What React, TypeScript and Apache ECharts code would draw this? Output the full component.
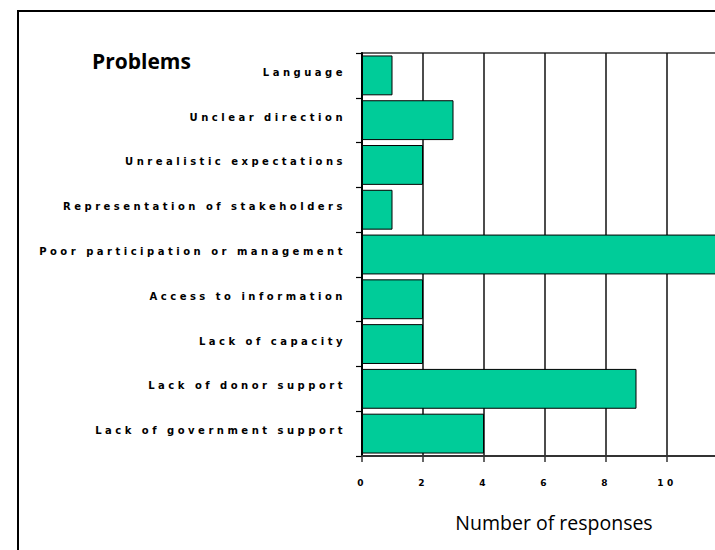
import React, { useEffect, useRef } from "react";
import * as echarts from "echarts";

const categories = [
  "Language",
  "Unclear direction",
  "Unrealistic expectations",
  "Representation of stakeholders",
  "Poor participation or management",
  "Access to information",
  "Lack of capacity",
  "Lack of donor support",
  "Lack of government support",
];
const responses = [1, 3, 2, 1, 12, 2, 2, 9, 4];
const titleText = "Problems";
const xAxisTitle = "Number of responses";

export default function App() {
  const ref = useRef<HTMLDivElement>(null);
  useEffect(() => {
    if (!ref.current) return;
    const chart = echarts.init(ref.current, null, { renderer: "svg" });
    chart.setOption({
      animation: false,
      backgroundColor: "#fff",
      grid: {
        left: 362,
        top: 53,
        right: -13,
        bottom: 94,
        containLabel: false,
        outerBoundsMode: "none",
        show: true,
        borderColor: "#333",
        borderWidth: 1.5,
        backgroundColor: "transparent",
      },
      xAxis: {
        type: "value",
        min: 0,
        max: 12,
        interval: 2,
        axisLine: { show: true, lineStyle: { color: "#333", width: 2 } },
        axisTick: { show: true, length: 6, lineStyle: { color: "#333", width: 1.5 } },
        splitLine: { show: true, lineStyle: { color: "#111", width: 1.5 } },
        axisLabel: {
          margin: 22,
          showMaxLabel: false,
          fontFamily: "DejaVu Sans",
          fontWeight: "bold",
          fontSize: 9,
          color: "#000",
        },
      },
      yAxis: {
        type: "category",
        data: categories,
        inverse: true,
        axisLine: { show: true, lineStyle: { color: "#000", width: 2 } },
        axisTick: { show: true, length: 6, lineStyle: { color: "#000", width: 1.2 } },
        axisLabel: {
          margin: 16,
          fontFamily: "DejaVu Sans",
          fontWeight: "bold",
          fontSize: 10,
          color: "#000",
          verticalAlign: "bottom",
          lineHeight: 6,
        },
      },
      series: [
        {
          type: "bar",
          data: responses,
          barCategoryGap: "11%",
          itemStyle: { color: "#00CC99", borderColor: "#000", borderWidth: 1 },
        },
      ],
      graphic: [
        {
          type: "rect",
          shape: { x: 18, y: 11, width: 800, height: 600 },
          style: { fill: "none", stroke: "#000", lineWidth: 2 },
          silent: true,
        },
        {
          type: "text",
          x: 92,
          y: 61,
          style: {
            text: titleText,
            font: 'bold 21px "Open Sans"',
            fill: "#000",
            textVerticalAlign: "middle",
          },
        },
        {
          type: "text",
          x: 554,
          y: 522,
          style: {
            text: xAxisTitle,
            font: '19.5px "Open Sans"',
            fill: "#000",
            textAlign: "center",
            textVerticalAlign: "middle",
          },
        },
      ],
    });
    return () => chart.dispose();
  }, []);
  return (
    <>
      <style>{`#root text[style*="DejaVu Sans"] { letter-spacing: 3.5px; }`}</style>
      <div
        ref={ref}
        style={{ position: "absolute", left: 0, top: 0, width: 715, height: 550 }}
      />
    </>
  );
}
